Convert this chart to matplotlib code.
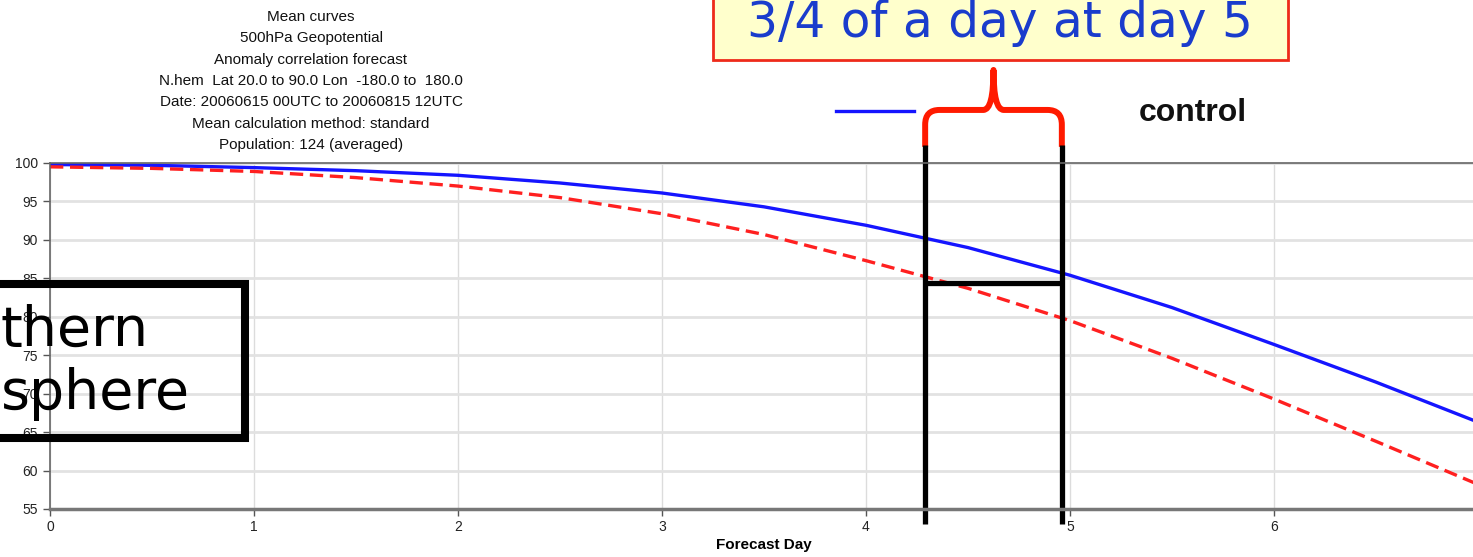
import numpy as np
import matplotlib
matplotlib.use("Agg")
import matplotlib.pyplot as plt
from matplotlib.path import Path
from matplotlib.patches import PathPatch, Rectangle

# data
days = [0, 0.5, 1, 1.5, 2, 2.5, 3, 3.5, 4, 4.5, 5, 5.5, 6, 6.5, 7]
control = [99.8, 99.7, 99.4, 99.0, 98.4, 97.4, 96.1, 94.3, 91.9, 89.0, 85.4, 81.2, 76.4, 71.5, 66.3]
other = [99.5, 99.3, 98.9, 98.1, 97.0, 95.5, 93.4, 90.7, 87.3, 83.7, 79.5, 74.6, 69.3, 63.8, 58.2]
yticks = [55, 60, 65, 70, 75, 80, 85, 90, 95, 100]
xticks = [0, 1, 2, 3, 4, 5, 6, 7]
title_lines = ["Mean curves", "500hPa Geopotential", "Anomaly correlation forecast",
               "N.hem  Lat 20.0 to 90.0 Lon  -180.0 to  180.0",
               "Date: 20060615 00UTC to 20060815 12UTC",
               "Mean calculation method: standard", "Population: 124 (averaged)"]
gap_start, gap_end, gap_level = 4.29, 4.96, 84.4

W, H = 1473, 557
fig = plt.figure(figsize=(W / 100, H / 100), dpi=100)

def fx(px):
    return px / W

def fy(py):
    return 1 - py / H

# axes: day 0 at x=50px, 204 px per day; 100 at y=163, 55 at y=509
ax = fig.add_axes([fx(50), fy(509), 7 * 204 / W, (509 - 163) / H])
ax.set_xlim(0, 7)
ax.set_ylim(55, 100)

ax.plot(days, control, color="#1515ff", lw=2.4, solid_capstyle="butt")
ax.plot(days, other, color="#ff2020", lw=2.4, dashes=(4, 2))

ax.set_yticks(yticks)
ax.set_xticks(xticks)
ax.grid(axis="y", color="#e2e2e2", lw=2)
ax.grid(axis="x", color="#dcdcdc", lw=1)
ax.set_axisbelow(True)
for s in ["left", "top", "right"]:
    ax.spines[s].set_color("#666666")
    ax.spines[s].set_linewidth(1.2)
ax.spines["bottom"].set_color("#777777")
ax.spines["bottom"].set_linewidth(2.5)
ax.tick_params(axis="both", labelsize=10, colors="#555555", labelcolor="#222222", length=5, width=1)
ax.tick_params(axis="x", pad=3)
for lab in ax.get_xticklabels() + ax.get_yticklabels():
    lab.set_family("Liberation Sans")
ax.set_xlabel("Forecast Day", fontsize=11, fontweight="bold", family="Liberation Sans", labelpad=3)

# black bracket marking the 3/4 day gap
ax.plot([gap_start, gap_start], [53.0, 102.3], color="black", lw=3.8, clip_on=False, solid_capstyle="butt")
ax.plot([gap_end, gap_end], [53.0, 102.3], color="black", lw=3.8, clip_on=False, solid_capstyle="butt")
ax.plot([gap_start, gap_end], [gap_level, gap_level], color="black", lw=3.8, clip_on=False, solid_capstyle="butt")

# red curly brace above
mid = (gap_start + gap_end) / 2
top, tip, leg = 106.9, 112.1, 102.1
verts = [(gap_start, leg), (gap_start, 105.0), (gap_start, top), (gap_start + 0.07, top),
         (mid - 0.05, top), (mid, top), (mid, tip),
         (mid, top), (mid + 0.05, top), (gap_end - 0.07, top),
         (gap_end, top), (gap_end, 105.0), (gap_end, leg)]
codes = [Path.MOVETO, Path.LINETO, Path.CURVE3, Path.CURVE3,
         Path.LINETO, Path.CURVE3, Path.CURVE3,
         Path.CURVE3, Path.CURVE3, Path.LINETO,
         Path.CURVE3, Path.CURVE3, Path.LINETO]
ax.add_patch(PathPatch(Path(verts, codes), fill=False, edgecolor="#ff1a00", lw=4.3,
                       clip_on=False, capstyle="butt", joinstyle="round"))

# title block
for i, line in enumerate(title_lines):
    fig.text(fx(311), fy(17 + i * 21.3), line, ha="center", va="center",
             fontsize=11, family="Liberation Sans", color="#111111")

# legend entry
fig.add_artist(plt.Line2D([fx(836), fx(914)], [fy(111), fy(111)], color="#1515ff", lw=2.4))
fig.text(fx(1139), fy(113), "control", ha="left", va="center", fontsize=23,
         fontweight="bold", family="Liberation Sans", color="#111111")

# yellow callout
fig.add_artist(Rectangle((fx(713), fy(60)), fx(1288 - 713), 70 / H, facecolor="#ffffcc",
                         edgecolor="#ee2a1a", lw=2, transform=fig.transFigure))
fig.text(fx(1000), fy(37), "3/4 of a day at day 5", ha="center", va="baseline",
         fontsize=35, family="DejaVu Sans", color="#1a3ccc")

# hemisphere box, cut by the left edge
fig.add_artist(Rectangle((fx(-150), fy(437.5)), fx(395), (437.5 - 283.5) / H, fill=False,
                         edgecolor="black", lw=5.8, transform=fig.transFigure))
fig.text(fx(1), fy(346), "thern", ha="left", va="baseline", fontsize=40,
         family="DejaVu Sans", color="black")
fig.text(fx(1), fy(409), "sphere", ha="left", va="baseline", fontsize=40,
         family="DejaVu Sans", color="black")

fig.savefig("out.png", dpi=100)
